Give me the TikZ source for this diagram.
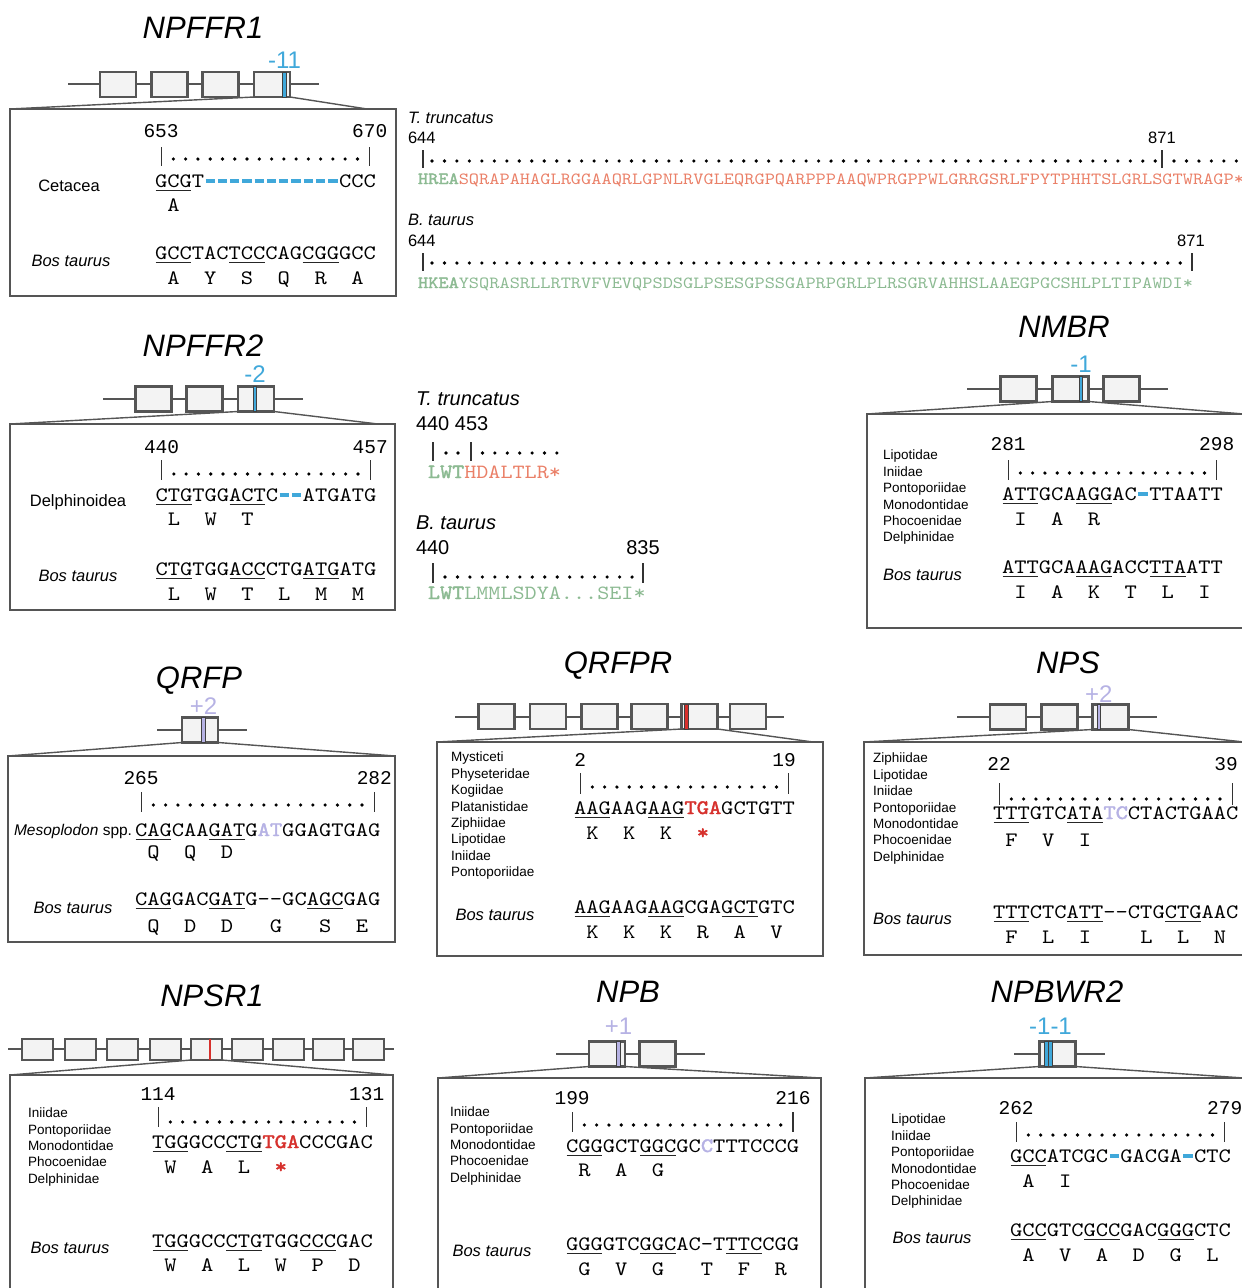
\documentclass[tikz,border=0pt]{standalone}
\usepackage{fontspec}
\setmainfont{Liberation Sans}
\newfontfamily\seqfont{lmmono10-regular.otf}[FakeStretch=1.14]
\newfontfamily\seqboldfont{lmmono10-regular.otf}[FakeStretch=1.14,FakeBold=2]
\newfontfamily\posfont{Liberation Mono}
\usetikzlibrary{positioning}

\definecolor{delblue}{RGB}{64,168,218}
\definecolor{inslilac}{RGB}{182,178,228}
\definecolor{stopred}{RGB}{214,48,44}
\definecolor{protgreen}{RGB}{140,186,146}
\definecolor{protred}{RGB}{234,128,104}
\definecolor{boxgray}{RGB}{85,85,85}
\definecolor{exonfill}{RGB}{243,243,243}

\newcommand{\chw}{12.27} % width of one base in the alignments
\newcommand{\dotr}{1.8pt} % radius of the ruler dots

\tikzset{x=1pt, y=-1pt, % one unit is one pixel of the figure, y runs down
  every node/.style={inner sep=0pt, outer sep=0pt},
  genetitle/.style={font=\fontsize{31}{31}\selectfont\itshape, anchor=base},
  shiftlabel/.style={font=\fontsize{24}{24}\selectfont},
  geneline/.style={draw=boxgray, line width=2pt},
  exon/.style={draw=boxgray, fill=exonfill, line width=2.3pt,
      minimum width=36pt, minimum height=25pt},
  smallexon/.style={exon, line width=2pt, minimum width=31pt, minimum height=21pt},
  indelmark/.style={draw=black!75, line width=0.6pt,
      minimum width=3.5pt, minimum height=25pt},
  panel/.style={draw=boxgray, line width=2.6pt, anchor=north west},
  zoomline/.style={draw=boxgray, line width=1.4pt},
  posnum/.style={font=\posfont\fontsize{19.5}{19.5}\selectfont, anchor=base},
  rulerbar/.style={draw=black!80, line width=1.2pt},
  seq/.style={font=\seqfont\fontsize{20.5}{20.5}\selectfont, anchor=base west},
  aa/.style={font=\seqfont\fontsize{20.5}{20.5}\selectfont, anchor=base},
  codonline/.style={draw=black!85, line width=1.2pt},
  gapdash/.style={draw=delblue, line width=3.6pt},
  clade/.style={font=\fontsize{16.5}{16.5}\selectfont, anchor=base},
  outgroup/.style={font=\fontsize{16.5}{16.5}\selectfont\itshape, anchor=base},
  family/.style={font=\fontsize{13.5}{13.5}\selectfont, anchor=base west},
  protlabel/.style={font=\fontsize{16.5}{16.5}\selectfont, anchor=base west},
  prot/.style={font=\seqfont\fontsize{17.04}{17}\selectfont, anchor=base west},
  protbig/.style={font=\seqfont\fontsize{20.2}{20}\selectfont, anchor=base west},
}

\begin{document}
\begin{tikzpicture}
\useasboundingbox (0,0) rectangle (1242,1288);
\clip (0,0) rectangle (1242,1288);

%%%%%%%%%% NPFFR1
\node[genetitle] (npffr1) at (203,38) {NPFFR1};
\draw[geneline] (68,84) -- (319,84);
\foreach \x [count=\i] in {118,169.5,220.5,272}
  \node[exon] (npffr1-e\i) at (\x,84.5) {};
\node[indelmark, fill=delblue] (npffr1-mk) at (284.5,84.5) {};
\node[shiftlabel, text=delblue, above=4pt of npffr1-mk] (npffr1-n) {-11};
\node[panel, minimum width=386pt, minimum height=187pt] (npffr1-box) at (10,109) {};
\draw[zoomline] (npffr1-e4.south west) -- (npffr1-box.north west);
\draw[zoomline] (npffr1-e4.south east) -- ([xshift=-29pt]npffr1-box.north east);
\node[posnum] (npffr1-p1) at (161.1,137) {653};
\node[posnum] (npffr1-p2) at (369.7,137) {670};
\draw[rulerbar] (161.1,147) -- (161.1,166);
\draw[rulerbar] (369.7,147) -- (369.7,166);
\foreach \i in {1,...,16}
  \fill ({155+(\i+0.5)*\chw},159) circle (\dotr);
\node[clade] (npffr1-c) at (69,191) {Cetacea};
\node[seq] (npffr1-s1) at (155,187) {GCGT};
\foreach \i in {4,...,14}
  \draw[gapdash] ({155+\i*\chw+1.5},181) -- ({155+(\i+1)*\chw-1.5},181);
\node[seq] (npffr1-s1b) at ({155+15*\chw},187) {CCC};
\draw[codonline] (155.5,190.5) -- ({155+3*\chw-0.5},190.5);
\node[aa] (npffr1-a0) at ({155+1.5*\chw},211) {A};
\node[outgroup] (npffr1-bt) at (71,266) {Bos taurus};
\node[seq] (npffr1-s2) at (155,259) {GCCTACTCCCAGCGGGCC};
\foreach \c in {0,6,12}
  \draw[codonline] ({155+\c*\chw+0.5},262.5) -- ({155+(\c+3)*\chw-0.5},262.5);
\foreach \a [count=\i from 0] in {A,Y,S,Q,R,A}
  \node[aa] (npffr1-b\i) at ({155+(3*\i+1.5)*\chw},284) {\a};

%%%%%%%%%% NPFFR1 protein
\node[protlabel, font=\fontsize{16.5}{16.5}\selectfont\itshape] (tt1) at (408,123) {T. truncatus};
\node[protlabel] (tt1-p1) at (408,143) {644};
\node[protlabel, anchor=base] (tt1-p2) at (1162,143) {871};
\draw[rulerbar] (423,150) -- (423,168);
\draw[rulerbar] (1162,150) -- (1162,168);
\foreach \i in {0,...,58}
  \fill ({432+\i*12.47},161) circle (\dotr);
\foreach \i in {0,...,6}
  \fill ({1174+\i*12.47},161) circle (\dotr);
\node[prot, text=protred] (tt1-s) at (418,184)
  {\textcolor{protgreen}{\seqboldfont HREA}SQRAPAHAGLRGGAAQRLGPNLRVGLEQRGPQARPPPAAQWPRGPPWLGRRGSRLFPYTPHHTSLGRLSGTWRAGP*};
\node[protlabel, font=\fontsize{16.5}{16.5}\selectfont\itshape] (bt1) at (408,225) {B. taurus};
\node[protlabel] (bt1-p1) at (408,246) {644};
\node[protlabel, anchor=base] (bt1-p2) at (1191,246) {871};
\draw[rulerbar] (423,253) -- (423,271);
\draw[rulerbar] (1192,253) -- (1192,271);
\foreach \i in {0,...,60}
  \fill ({432+\i*12.47},263) circle (\dotr);
\node[prot, text=protgreen] (bt1-s) at (418,288)
  {{\seqboldfont HKEA}YSQRASRLLRTRVFVEVQPSDSGLPSESGPSSGAPRPGRLPLRSGRVAHHSLAAEGPGCSHLPLTIPAWDI*};

%%%%%%%%%% NPFFR2
\node[genetitle] (npffr2) at (203,356) {NPFFR2};
\draw[geneline] (103,399) -- (303,399);
\foreach \x [count=\i] in {153.5,204.5,256}
  \node[exon] (npffr2-e\i) at (\x,399) {};
\node[indelmark, fill=delblue] (npffr2-mk) at (255,399) {};
\node[shiftlabel, text=delblue, above=4pt of npffr2-mk] (npffr2-n) {-2};
\node[panel, minimum width=385pt, minimum height=186pt] (npffr2-box) at (10,424) {};
\draw[zoomline] (npffr2-e3.south west) -- (npffr2-box.north west);
\draw[zoomline] (npffr2-e3.south east) -- ([xshift=-17pt]npffr2-box.north east);
\node[posnum] (npffr2-p1) at (161.6,453) {440};
\node[posnum] (npffr2-p2) at (370.2,453) {457};
\draw[rulerbar] (161.6,460) -- (161.6,480);
\draw[rulerbar] (370.2,460) -- (370.2,480);
\foreach \i in {1,...,16}
  \fill ({155.5+(\i+0.5)*\chw},474) circle (\dotr);
\node[clade] (npffr2-c) at (78,506) {Delphinoidea};
\node[seq] (npffr2-s1) at (155.5,501) {CTGTGGACTC};
\foreach \i in {10,11}
  \draw[gapdash] ({155.5+\i*\chw+1.5},495) -- ({155.5+(\i+1)*\chw-1.5},495);
\node[seq] (npffr2-s1b) at ({155.5+12*\chw},501) {ATGATG};
\foreach \c in {0,6}
  \draw[codonline] ({155.5+\c*\chw+0.5},504.5) -- ({155.5+(\c+3)*\chw-0.5},504.5);
\foreach \a [count=\i from 0] in {L,W,T}
  \node[aa] (npffr2-a\i) at ({155.5+(3*\i+1.5)*\chw},525) {\a};
\node[outgroup] (npffr2-bt) at (78,581) {Bos taurus};
\node[seq] (npffr2-s2) at (155.5,575) {CTGTGGACCCTGATGATG};
\foreach \c in {0,6,12}
  \draw[codonline] ({155.5+\c*\chw+0.5},578.5) -- ({155.5+(\c+3)*\chw-0.5},578.5);
\foreach \a [count=\i from 0] in {L,W,T,L,M,M}
  \node[aa] (npffr2-b\i) at ({155.5+(3*\i+1.5)*\chw},600) {\a};

%%%%%%%%%% NPFFR2 protein
\node[protlabel, font=\fontsize{20}{20}\selectfont\itshape] (tt2) at (416,405) {T. truncatus};
\node[protlabel, font=\fontsize{20}{20}\selectfont] (tt2-p) at (416,430) {440 453};
\draw[rulerbar] (433,442) -- (433,461);
\draw[rulerbar] (471,442) -- (471,461);
\foreach \x in {446,458}
  \fill (\x,453) circle (\dotr);
\foreach \i in {0,...,6}
  \fill ({482.5+\i*12.4},453) circle (\dotr);
\node[protbig, text=protred] (tt2-s) at (428,478)
  {\textcolor{protgreen}{\seqboldfont LWT}HDALTLR*};
\node[protlabel, font=\fontsize{20}{20}\selectfont\itshape] (bt2) at (416,529) {B. taurus};
\node[protlabel, font=\fontsize{20}{20}\selectfont] (bt2-p1) at (416,554) {440};
\node[protlabel, font=\fontsize{20}{20}\selectfont, anchor=base] (bt2-p2) at (643,554) {835};
\draw[rulerbar] (433,563) -- (433,583);
\draw[rulerbar] (643,563) -- (643,583);
\foreach \i in {0,...,15}
  \fill ({445+\i*12.47},577) circle (\dotr);
\node[protbig, text=protgreen] (bt2-s) at (428,599)
  {{\seqboldfont LWT}LMMLSDYA...SEI*};

%%%%%%%%%% NMBR
\node[genetitle] (nmbr) at (1064,337) {NMBR};
\draw[geneline] (967,389) -- (1168,389);
\foreach \x [count=\i] in {1018.5,1070.5,1121.5}
  \node[exon] (nmbr-e\i) at (\x,389) {};
\node[indelmark, fill=delblue] (nmbr-mk) at (1081,389) {};
\node[shiftlabel, text=delblue, above=4pt of nmbr-mk] (nmbr-n) {-1};
\node[panel, minimum width=400pt, minimum height=214pt] (nmbr-box) at (867,414) {};
\coordinate (nmbr-zr) at (1244,414);
\draw[zoomline] (nmbr-e2.south west) -- (nmbr-box.north west);
\draw[zoomline] (nmbr-e2.south east) -- (nmbr-zr);
\foreach \f [count=\i from 0] in {Lipotidae,Iniidae,Pontoporiidae,Monodontidae,Phocoenidae,Delphinidae}
  \node[family] (nmbr-f\i) at (883,{459.9+16.4*\i}) {\f};
\node[posnum] (nmbr-p1) at (1008.1,450) {281};
\node[posnum] (nmbr-p2) at (1216.7,450) {298};
\draw[rulerbar] (1008.1,460) -- (1008.1,480);
\draw[rulerbar] (1216.7,460) -- (1216.7,480);
\foreach \i in {1,...,16}
  \fill ({1002+(\i+0.5)*\chw},473) circle (\dotr);
\node[seq] (nmbr-s1) at (1002,500) {ATTGCAAGGAC};
\draw[gapdash] ({1002+11*\chw+1.5},494) -- ({1002+12*\chw-1.5},494);
\node[seq] (nmbr-s1b) at ({1002+12*\chw},500) {TTAATT};
\foreach \c in {0,6}
  \draw[codonline] ({1002+\c*\chw+0.5},503.5) -- ({1002+(\c+3)*\chw-0.5},503.5);
\foreach \a [count=\i from 0] in {I,A,R}
  \node[aa] (nmbr-a\i) at ({1002+(3*\i+1.5)*\chw},525) {\a};
\node[outgroup, anchor=base west] (nmbr-bt) at (883,580) {Bos taurus};
\node[seq] (nmbr-s2) at (1002,573) {ATTGCAAAGACCTTAATT};
\foreach \c in {0,6,12}
  \draw[codonline] ({1002+\c*\chw+0.5},576.5) -- ({1002+(\c+3)*\chw-0.5},576.5);
\foreach \a [count=\i from 0] in {I,A,K,T,L,I}
  \node[aa] (nmbr-b\i) at ({1002+(3*\i+1.5)*\chw},598) {\a};

%%%%%%%%%% QRFP
\node[genetitle] (qrfp) at (199,688) {QRFP};
\draw[geneline] (157,730) -- (247,730);
\node[exon] (qrfp-e1) at (200,730) {};
\node[indelmark, fill=inslilac] (qrfp-mk) at (203.5,730) {};
\node[shiftlabel, text=inslilac, above=3.5pt of qrfp-mk] (qrfp-n) {+2};
\node[panel, minimum width=387pt, minimum height=186pt] (qrfp-box) at (8,756) {};
\draw[zoomline] (qrfp-e1.south west) -- (qrfp-box.north west);
\draw[zoomline] (qrfp-e1.south east) -- (qrfp-box.north east);
\node[posnum] (qrfp-p1) at (141.1,784) {265};
\node[posnum] (qrfp-p2) at (374.3,784) {282};
\draw[rulerbar] (141.1,792) -- (141.1,812);
\draw[rulerbar] (374.3,792) -- (374.3,812);
\foreach \i in {1,...,18}
  \fill ({135+(\i+0.5)*\chw},805) circle (\dotr);
\node[anchor=base west, font=\fontsize{15.5}{15.5}\selectfont] (qrfp-c) at (14,835.5)
  {\textit{Mesoplodon} spp.};
\node[seq] (qrfp-s1) at (135,836)
  {CAGCAAGATG\textcolor{inslilac}{\seqboldfont AT}GGAGTGAG};
\foreach \c in {0,6}
  \draw[codonline] ({135+\c*\chw+0.5},839.5) -- ({135+(\c+3)*\chw-0.5},839.5);
\foreach \a [count=\i from 0] in {Q,Q,D}
  \node[aa] (qrfp-a\i) at ({135+(3*\i+1.5)*\chw},858) {\a};
\node[outgroup] (qrfp-bt) at (73,913) {Bos taurus};
\node[seq] (qrfp-s2) at (135,905) {CAGGACGATG--GCAGCGAG};
\foreach \c in {0,6,14}
  \draw[codonline] ({135+\c*\chw+0.5},908.5) -- ({135+(\c+3)*\chw-0.5},908.5);
\foreach \a/\p [count=\i from 0] in {Q/1.5,D/4.5,D/7.5,G/11.5,S/15.5,E/18.5}
  \node[aa] (qrfp-b\i) at ({135+\p*\chw},932) {\a};

%%%%%%%%%% QRFPR
\node[genetitle] (qrfpr) at (618,673) {QRFPR};
\draw[geneline] (455,717) -- (784,717);
\foreach \x [count=\i] in {496.5,548,599.5,649.5,699.5,748}
  \node[exon] (qrfpr-e\i) at (\x,716.5) {};
\node[indelmark, fill=stopred] (qrfpr-mk) at (686.5,716.5) {};
\node[panel, minimum width=386pt, minimum height=214pt] (qrfpr-box) at (437,742) {};
\draw[zoomline] (qrfpr-e5.south west) -- (qrfpr-box.north west);
\draw[zoomline] (qrfpr-e5.south east) -- ([xshift=-10pt]qrfpr-box.north east);
\foreach \f [count=\i from 0] in {Mysticeti,Physeteridae,Kogiidae,Platanistidae,Ziphiidae,Lipotidae,Iniidae,Pontoporiidae}
  \node[family] (qrfpr-f\i) at (451,{761.9+16.4*\i}) {\f};
\node[posnum] (qrfpr-p1) at (580.1,766) {2};
\node[posnum] (qrfpr-p2) at (784,766) {19};
\draw[rulerbar] (580.1,773) -- (580.1,794);
\draw[rulerbar] (788.7,773) -- (788.7,794);
\foreach \i in {1,...,16}
  \fill ({574+(\i+0.5)*\chw},787) circle (\dotr);
\node[seq] (qrfpr-s1) at (574,814)
  {AAGAAGAAG\textcolor{stopred}{\seqboldfont TGA}GCTGTT};
\foreach \c in {0,6}
  \draw[codonline] ({574+\c*\chw+0.5},817.5) -- ({574+(\c+3)*\chw-0.5},817.5);
\foreach \a [count=\i from 0] in {K,K,K}
  \node[aa] (qrfpr-a\i) at ({574+(3*\i+1.5)*\chw},839) {\a};
\node[aa, text=stopred] (qrfpr-stop) at ({574+10.5*\chw},839) {\seqboldfont *};
\node[outgroup] (qrfpr-bt) at (495,920) {Bos taurus};
\node[seq] (qrfpr-s2) at (574,913) {AAGAAGAAGCGAGCTGTC};
\foreach \c in {0,6,12}
  \draw[codonline] ({574+\c*\chw+0.5},916.5) -- ({574+(\c+3)*\chw-0.5},916.5);
\foreach \a [count=\i from 0] in {K,K,K,R,A,V}
  \node[aa] (qrfpr-b\i) at ({574+(3*\i+1.5)*\chw},938) {\a};

%%%%%%%%%% NPS
\node[genetitle] (nps) at (1068,673) {NPS};
\draw[geneline] (957,717) -- (1157,717);
\foreach \x [count=\i] in {1008,1059.5,1110.5}
  \node[exon] (nps-e\i) at (\x,717) {};
\node[indelmark, fill=inslilac] (nps-mk) at (1098.7,717) {};
\node[shiftlabel, text=inslilac, above=2.5pt of nps-mk] (nps-n) {+2};
\node[panel, minimum width=400pt, minimum height=213pt] (nps-box) at (864,742) {};
\coordinate (nps-zr) at (1244,742);
\draw[zoomline] (nps-e3.south west) -- (nps-box.north west);
\draw[zoomline] (nps-e3.south east) -- (nps-zr);
\foreach \f [count=\i from 0] in {Ziphiidae,Lipotidae,Iniidae,Pontoporiidae,Monodontidae,Phocoenidae,Delphinidae}
  \node[family] (nps-f\i) at (873,{762.9+16.4*\i}) {\f};
\node[posnum] (nps-p1) at (999.1,770) {22};
\node[posnum] (nps-p2) at (1226,770) {39};
\draw[rulerbar] (999.1,783) -- (999.1,805);
\draw[rulerbar] (1232.3,783) -- (1232.3,805);
\foreach \i in {1,...,18}
  \fill ({993+(\i+0.5)*\chw},799) circle (\dotr);
\node[seq] (nps-s1) at (993,819)
  {TTTGTCATA\textcolor{inslilac}{\seqboldfont TC}CTACTGAAC};
\foreach \c in {0,6}
  \draw[codonline] ({993+\c*\chw+0.5},822.5) -- ({993+(\c+3)*\chw-0.5},822.5);
\foreach \a [count=\i from 0] in {F,V,I}
  \node[aa] (nps-a\i) at ({993+(3*\i+1.5)*\chw},846) {\a};
\node[outgroup, anchor=base west] (nps-bt) at (873,924) {Bos taurus};
\node[seq] (nps-s2) at (993,918) {TTTCTCATT--CTGCTGAAC};
\foreach \c in {0,6,14}
  \draw[codonline] ({993+\c*\chw+0.5},921.5) -- ({993+(\c+3)*\chw-0.5},921.5);
\foreach \a/\p [count=\i from 0] in {F/1.5,L/4.5,I/7.5,L/12.5,L/15.5,N/18.5}
  \node[aa] (nps-b\i) at ({993+\p*\chw},943) {\a};

%%%%%%%%%% NPSR1
\node[genetitle] (npsr1) at (212,1006) {NPSR1};
\draw[geneline] (8,1049) -- (394,1049);
\foreach \x [count=\i] in {37,80.5,122.5,165.5,206.5,247.5,288,328.5,368}
  \node[smallexon] (npsr1-e\i) at (\x,1049.5) {};
\node[draw=none, fill=stopred, minimum width=2pt, minimum height=21pt] (npsr1-mk) at (209.5,1049.5) {};
\node[panel, minimum width=383pt, minimum height=240pt] (npsr1-box) at (10,1075) {};
\draw[zoomline] (npsr1-e5.south west) -- (npsr1-box.north west);
\draw[zoomline] (npsr1-e5.south east) -- (npsr1-box.north east);
\foreach \f [count=\i from 0] in {Iniidae,Pontoporiidae,Monodontidae,Phocoenidae,Delphinidae}
  \node[family] (npsr1-f\i) at (28,{1117.9+16.3*\i}) {\f};
\node[posnum] (npsr1-p1) at (158.1,1100) {114};
\node[posnum] (npsr1-p2) at (366.7,1100) {131};
\draw[rulerbar] (158.1,1107) -- (158.1,1127);
\draw[rulerbar] (366.7,1107) -- (366.7,1127);
\foreach \i in {1,...,16}
  \fill ({152+(\i+0.5)*\chw},1122) circle (\dotr);
\node[seq] (npsr1-s1) at (152,1148)
  {TGGGCCCTG\textcolor{stopred}{\seqboldfont TGA}CCCGAC};
\foreach \c in {0,6}
  \draw[codonline] ({152+\c*\chw+0.5},1151.5) -- ({152+(\c+3)*\chw-0.5},1151.5);
\foreach \a [count=\i from 0] in {W,A,L}
  \node[aa] (npsr1-a\i) at ({152+(3*\i+1.5)*\chw},1173) {\a};
\node[aa, text=stopred] (npsr1-stop) at ({152+10.5*\chw},1173) {\seqboldfont *};
\node[outgroup] (npsr1-bt) at (70,1253) {Bos taurus};
\node[seq] (npsr1-s2) at (152,1247) {TGGGCCCTGTGGCCCGAC};
\foreach \c in {0,6,12}
  \draw[codonline] ({152+\c*\chw+0.5},1250.5) -- ({152+(\c+3)*\chw-0.5},1250.5);
\foreach \a [count=\i from 0] in {W,A,L,W,P,D}
  \node[aa] (npsr1-b\i) at ({152+(3*\i+1.5)*\chw},1271) {\a};

%%%%%%%%%% NPB
\node[genetitle] (npb) at (628,1002) {NPB};
\draw[geneline] (556,1054) -- (705,1054);
\foreach \x [count=\i] in {607,657.5}
  \node[exon] (npb-e\i) at (\x,1054) {};
\node[indelmark, fill=inslilac] (npb-mk) at (618.5,1054) {};
\node[shiftlabel, text=inslilac, above=7pt of npb-mk] (npb-n) {+1};
\node[panel, minimum width=383pt, minimum height=240pt] (npb-box) at (438,1078) {};
\draw[zoomline] (npb-e1.south west) -- (npb-box.north west);
\draw[zoomline] (npb-e1.south east) -- (npb-box.north east);
\foreach \f [count=\i from 0] in {Iniidae,Pontoporiidae,Monodontidae,Phocoenidae,Delphinidae}
  \node[family] (npb-f\i) at (450,{1116.9+16.3*\i}) {\f};
\node[posnum] (npb-p1) at (572.1,1104) {199};
\node[posnum] (npb-p2) at (793,1104) {216};
\draw[rulerbar] (572.1,1112) -- (572.1,1132);
\draw[rulerbar] (793,1112) -- (793,1132);
\foreach \i in {1,...,17}
  \fill ({566+(\i+0.5)*\chw},1125) circle (\dotr);
\node[seq] (npb-s1) at (566,1152)
  {CGGGCTGGCGC\textcolor{inslilac}{\seqboldfont C}TTTCCCG};
\foreach \c in {0,6}
  \draw[codonline] ({566+\c*\chw+0.5},1155.5) -- ({566+(\c+3)*\chw-0.5},1155.5);
\foreach \a [count=\i from 0] in {R,A,G}
  \node[aa] (npb-a\i) at ({566+(3*\i+1.5)*\chw},1176) {\a};
\node[outgroup] (npb-bt) at (492,1256) {Bos taurus};
\node[seq] (npb-s2) at (566,1250) {GGGGTCGGCAC-TTTCCGG};
\foreach \c in {0,6,13}
  \draw[codonline] ({566+\c*\chw+0.5},1253.5) -- ({566+(\c+3)*\chw-0.5},1253.5);
\foreach \a/\p [count=\i from 0] in {G/1.5,V/4.5,G/7.5,T/11.5,F/14.5,R/17.5}
  \node[aa] (npb-b\i) at ({566+\p*\chw},1275) {\a};

%%%%%%%%%% NPBWR2
\node[genetitle] (npbwr2) at (1057,1002) {NPBWR2};
\draw[geneline] (1014,1054) -- (1105,1054);
\node[exon] (npbwr2-e1) at (1057.5,1054) {};
\node[indelmark, fill=delblue] (npbwr2-mk1) at (1046.5,1054) {};
\node[indelmark, fill=delblue] (npbwr2-mk2) at (1050.5,1054) {};
\node[shiftlabel, text=delblue, above=7pt of npbwr2-mk2] (npbwr2-n) {-1-1};
\node[panel, minimum width=400pt, minimum height=240pt] (npbwr2-box) at (865,1078) {};
\coordinate (npbwr2-zr) at (1244,1078);
\draw[zoomline] (npbwr2-e1.south west) -- (npbwr2-box.north west);
\draw[zoomline] (npbwr2-e1.south east) -- (npbwr2-zr);
\foreach \f [count=\i from 0] in {Lipotidae,Iniidae,Pontoporiidae,Monodontidae,Phocoenidae,Delphinidae}
  \node[family] (npbwr2-f\i) at (891,{1123.9+16.4*\i}) {\f};
\node[posnum] (npbwr2-p1) at (1016.1,1114) {262};
\node[posnum] (npbwr2-p2) at (1224.7,1114) {279};
\draw[rulerbar] (1016.1,1122) -- (1016.1,1142);
\draw[rulerbar] (1224.7,1122) -- (1224.7,1142);
\foreach \i in {1,...,16}
  \fill ({1010+(\i+0.5)*\chw},1135) circle (\dotr);
\node[seq] (npbwr2-s1) at (1010,1162) {GCCATCGC};
\node[seq] (npbwr2-s1b) at ({1010+9*\chw},1162) {GACGA};
\node[seq] (npbwr2-s1c) at ({1010+15*\chw},1162) {CTC};
\foreach \i in {8,14}
  \draw[gapdash] ({1010+\i*\chw+1.5},1156) -- ({1010+(\i+1)*\chw-1.5},1156);
\draw[codonline] (1010.5,1165.5) -- ({1010+3*\chw-0.5},1165.5);
\foreach \a [count=\i from 0] in {A,I}
  \node[aa] (npbwr2-a\i) at ({1010+(3*\i+1.5)*\chw},1187) {\a};
\node[outgroup] (npbwr2-bt) at (932,1243) {Bos taurus};
\node[seq] (npbwr2-s2) at (1010,1236) {GCCGTCGCCGACGGGCTC};
\foreach \c in {0,6,12}
  \draw[codonline] ({1010+\c*\chw+0.5},1239.5) -- ({1010+(\c+3)*\chw-0.5},1239.5);
\foreach \a [count=\i from 0] in {A,V,A,D,G,L}
  \node[aa] (npbwr2-b\i) at ({1010+(3*\i+1.5)*\chw},1261) {\a};
\end{tikzpicture}
\end{document}
